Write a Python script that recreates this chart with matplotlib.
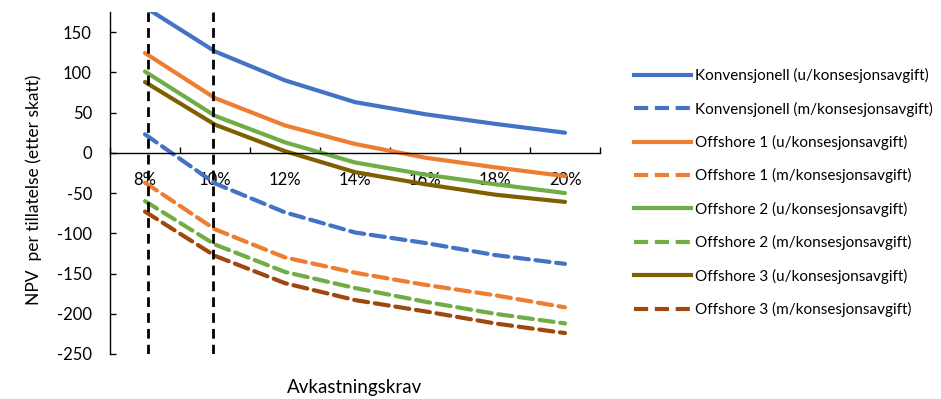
import matplotlib.pyplot as plt
from matplotlib.lines import Line2D

plt.rcParams['font.family'] = ['Lato', 'DejaVu Sans']
plt.rcParams['axes.unicode_minus'] = False

rates = ['8%', '10%', '12%', '14%', '16%', '18%', '20%']

konv_u = [181, 126, 90, 63, 48, 36, 25]
konv_m = [23, -38, -74, -99, -112, -127, -138]
off1_u = [124, 68, 34, 11, -6, -18, -29]
off1_m = [-37, -95, -130, -149, -164, -177, -192]
off2_u = [101, 46, 13, -12, -27, -39, -50]
off2_m = [-60, -114, -148, -168, -185, -200, -212]
off3_u = [88, 35, 2, -24, -39, -52, -61]
off3_m = [-73, -128, -162, -183, -197, -212, -224]

labels = [
    'Konvensjonell (u/konsesjonsavgift)',
    'Konvensjonell (m/konsesjonsavgift)',
    'Offshore 1 (u/konsesjonsavgift)',
    'Offshore 1 (m/konsesjonsavgift)',
    'Offshore 2 (u/konsesjonsavgift)',
    'Offshore 2 (m/konsesjonsavgift)',
    'Offshore 3 (u/konsesjonsavgift)',
    'Offshore 3 (m/konsesjonsavgift)',
]
series = [konv_u, konv_m, off1_u, off1_m, off2_u, off2_m, off3_u, off3_m]
colors = ['#4472C4', '#4472C4', '#ED7D31', '#ED7D31',
          '#70AD47', '#70AD47', '#7F6000', '#9E480E']
dashed = [False, True] * 4
DASH = (3.4, 1.6)

fig = plt.figure(figsize=(9.41, 3.99), dpi=100)
ax = fig.add_axes([110 / 941, 1 - 354 / 399, 490 / 941, 342 / 399])

x = list(range(len(rates)))
handles = []
for vals, col, dsh, lab in zip(series, colors, dashed, labels):
    if dsh:
        ax.plot(x, vals, color=col, lw=3, dashes=DASH,
                solid_capstyle='round', dash_capstyle='round')
    else:
        ax.plot(x, vals, color=col, lw=3, solid_capstyle='round')
    handles.append(Line2D([], [], color=col, lw=3,
                          dashes=DASH if dsh else (None, None),
                          label=lab))

# markers for the 8% and 10% thresholds
for xv in (0.04, 0.97):
    ax.axvline(xv, color='black', lw=2, dashes=(3.5, 2.2))

ax.set_xlim(-0.5, len(rates) - 0.5)
ax.set_ylim(-250, 175)
ax.set_yticks(range(-250, 151, 50))

ax.spines['top'].set_visible(False)
ax.spines['right'].set_visible(False)
ax.spines['bottom'].set_position(('data', 0))
ax.spines['left'].set_linewidth(1)
ax.spines['bottom'].set_linewidth(1)

ax.set_xticks(x)
ax.set_xticklabels(rates)
ax.set_xticks([i - 0.5 for i in range(len(rates) + 1)], minor=True)
ax.tick_params(axis='x', which='major', length=0, pad=13.5, labelsize=12)
ax.tick_params(axis='x', which='minor', direction='in', length=4.5, width=1)
ax.tick_params(axis='y', direction='in', length=4.5, width=1, pad=13,
               labelsize=12)

fig.text(355 / 941, 1 - 387 / 399, 'Avkastningskrav', ha='center',
         va='center', fontsize=13.5)
fig.text(34 / 941, 1 - 190 / 399, 'NPV  per tillatelse (etter skatt)',
         rotation=90, ha='center', va='center', fontsize=12.5)

fig.legend(handles=handles, loc='upper left',
           bbox_to_anchor=(628 / 941, 1 - 62 / 399), frameon=False,
           fontsize=11, handlelength=3.7, handletextpad=0.3,
           labelspacing=1.2, borderaxespad=0)

fig.savefig('out.png', dpi=100)
